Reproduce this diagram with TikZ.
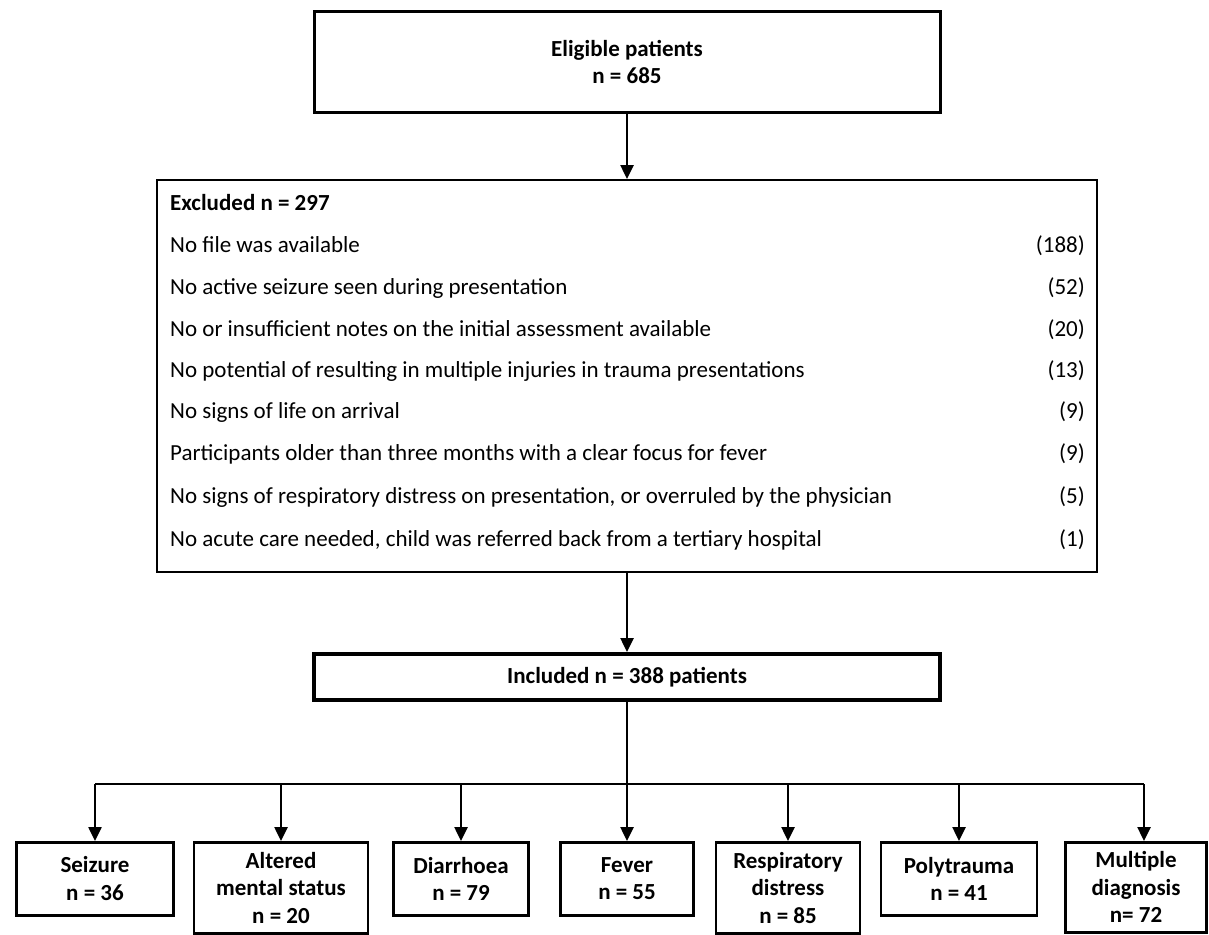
\documentclass[tikz,border=0pt]{standalone}
\usepackage{fontspec}
\setmainfont{Carlito}
\usetikzlibrary{arrows.meta}

\begin{document}
\begin{tikzpicture}[x=1pt,y=-1pt,>={Triangle[length=14pt,width=13pt]},
  font=\fontsize{23}{27}\selectfont,
  box/.style={draw,line width=2.5pt,align=center,inner sep=0pt,font=\fontsize{23}{27.5}\selectfont\bfseries},
  cat/.style={box,anchor=north,minimum height=73pt},
  row/.style={anchor=west,inner sep=0pt,text height=16pt,text depth=5pt},
  cnt/.style={anchor=east,inner sep=0pt,text height=16pt,text depth=5pt},
  link/.style={->,line width=2.5pt}]
\useasboundingbox (0,0) rectangle (1209,934);
% top of the flow
\node[box,line width=3pt,minimum width=626pt,minimum height=100pt] (elig) at (627,62) {Eligible patients\\n = 685};
\node[draw,line width=2pt,minimum width=940pt,minimum height=392pt,inner sep=0pt] (excl) at (627,376) {};
\node[box,line width=4pt,minimum width=626pt,minimum height=46pt] (inc) at (627,677) {Included n = 388 patients};
\draw[link] (elig) -- (excl);
\draw[link] (excl) -- (inc);
% exclusion reasons
\node[row,font=\fontsize{23}{27}\selectfont\bfseries] (head) at (170,205) {Excluded n = 297};
\node[row] (r1) at (170,247) {No file was available};
\node[row] (r2) at (170,289) {No active seizure seen during presentation};
\node[row] (r3) at (170,331) {No or insufficient notes on the initial assessment available};
\node[row] (r4) at (170,372) {No potential of resulting in multiple injuries in trauma presentations};
\node[row] (r5) at (170,413) {No signs of life on arrival};
\node[row] (r6) at (170,455) {Participants older than three months with a clear focus for fever};
\node[row] (r7) at (170,498) {No signs of respiratory distress on presentation, or overruled by the physician};
\node[row] (r8) at (170,541) {No acute care needed, child was referred back from a tertiary hospital};
\node[cnt] (c1) at (1085,247) {(188)};
\node[cnt] (c2) at (1085,289) {(52)};
\node[cnt] (c3) at (1085,331) {(20)};
\node[cnt] (c4) at (1085,372) {(13)};
\node[cnt] (c5) at (1085,413) {(9)};
\node[cnt] (c6) at (1085,455) {(9)};
\node[cnt] (c7) at (1085,498) {(5)};
\node[cnt] (c8) at (1085,541) {(1)};
% diagnosis groups
\node[cat,minimum width=157pt] (sei) at (95,841) {Seizure\\n = 36};
\node[cat,minimum width=174pt,minimum height=91pt] (alt) at (281,841) {Altered\\mental status\\n = 20};
\node[cat,minimum width=135pt] (dia) at (461,841) {Diarrhoea\\n = 79};
\node[cat,minimum width=133pt] (fev) at (627,841) {Fever\\n = 55};
\node[cat,minimum width=144pt,minimum height=91pt] (res) at (788,841) {Respiratory\\distress\\n = 85};
\node[cat,minimum width=156pt] (pol) at (959,841) {Polytrauma\\n = 41};
\node[cat,minimum width=141pt,minimum height=90pt] (mul) at (1136,841) {Multiple\\diagnosis\\n= 72};
\coordinate (mtop) at (1144,841);
\coordinate (bus) at (627,784);
\draw[line width=2.5pt] (inc) -- (bus);
\draw[line width=2.5pt] (bus -| sei.north) -- (bus -| mtop);
\foreach \n in {sei,alt,dia,fev,res,pol}
  \draw[link] (bus -| \n.north) -- (\n.north);
\draw[link] (bus -| mtop) -- (mtop);
\end{tikzpicture}
\end{document}
